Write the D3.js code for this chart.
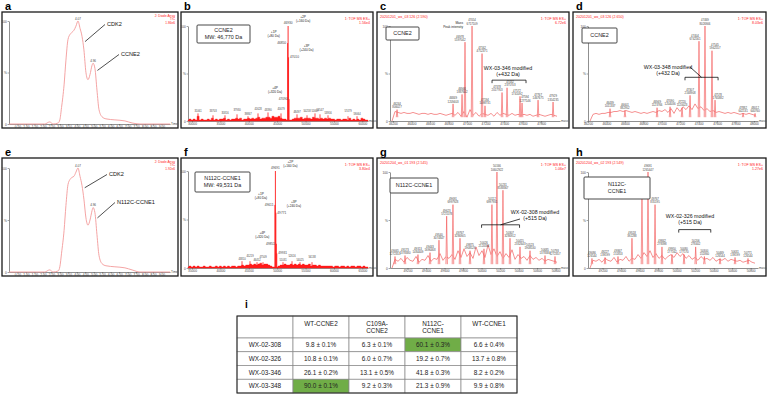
<!DOCTYPE html>
<head>
<meta charset="utf-8">
<script src="https://d3js.org/d3.v7.min.js"></script>
<style>
  body { margin:0; background:#fff; }
  text { font-family: "Liberation Sans", Arial, sans-serif; }
</style>
</head>
<body>
<script>

// ---------- data ----------

// a / e : UV chromatograms (time in min, % signal)
var chromTime = [0, 2.1, 2.4, 2.6, 2.9, 3.0, 3.1, 3.25, 3.36, 3.48, 3.6, 3.72, 3.83, 3.95, 4.07, 4.19, 4.31, 4.42, 4.54, 4.66, 4.78, 4.9, 4.96, 5.07, 5.19, 5.31, 5.49, 5.72, 6.25, 6.84, 7.26, 7.73, 9.5];
var aSignal = [0, 0, 2, 0, 1, 4, 16, 38, 62, 82, 87, 89, 91, 95, 100, 93, 85, 72, 50, 43, 48, 57, 59, 54, 33, 14, 7, 5, 4, 3, 1, 0, 0];
var eSignal = [0, 0, 2, 0, 1, 5, 18, 40, 64, 84, 89, 91, 92, 96, 100, 92, 83, 70, 52, 45, 50, 59, 62, 57, 36, 16, 8, 6, 5, 4, 2, 0, 0];
var chromTicks = [0.5, 1, 1.5, 2, 2.5, 3, 3.5, 4, 4.5, 5, 5.5, 6, 6.5, 7, 7.5, 8, 8.5, 9];
var aPeakTimes = [4.07, 4.96];
var ePeakTimes = [4.07, 4.96];
var aNotes = ["CDK2", "CCNE2"];
var eNotes = ["CDK2", "N112C-CCNE1"];
var aAnchors = [[4.37, 80], [5.1, 52]];
var eAnchors = [[4.35, 81], [5.1, 52]];

// b / f : deconvoluted full-range spectra
var bTicks = [30000, 35000, 40000, 45000, 50000, 55000, 60000];
var fTicks = [35000, 40000, 45000, 50000, 55000, 60000, 65000];
var bPeaks = [[46930, 100], [46850, 82], [47010, 67], [47090, 23]];
var fPeaks = [[49691, 100], [49611, 65], [49771, 57], [49851, 25], [49931, 15]];
var peakSides = ["t", "l", "r", "l", "r"];
var phosTop = ["+2P", "+1P", "+3P", "+4P"];
var phosBottom = ["(+160 Da)", "(+80 Da)", "(+240 Da)", "(+320 Da)"];
var bMinor = [[31061, 8], [33703, 6], [35816, 6], [37930, 7], [39867, 5], [41628, 8], [43390, 9], [45679, 8],
              [48497, 7], [50258, 6], [51667, 8], [52547, 7], [53956, 6], [57479, 5], [59064, 5]];
var fMinor = [[43810, 7], [45219, 7], [46452, 6], [47509, 6], [51031, 6], [52616, 7], [54025, 6], [56138, 6]];
var bNoise = [1,2,1,2,1, 5,1,2,1,1, 2,1,3,1,2, 1,2,2,3,1, 2,1,2,2,3, 2,3,1,2,2, 3,2,3,2,3, 4,2,3,3,4,
              4,3,5,4,4, 5,3,2,2,1, 1,1,2,3,3, 3,4,2,3,3, 3,2,4,3,3, 2,3,2,3,2, 3,2,2,1,2, 2,1,2,2,1,
              3,1,2,1,2, 1,3,2,1,1];
var fNoise = [1,2,1,2,1, 2,1,1,2,1, 1,2,1,1,2, 1,2,1,2,1, 2,1,2,2,1, 2,2,3,2,3, 3,4,3,4,3, 4,5,3,4,4,
              3,2,1,1,1, 2,3,3,4,3, 3,4,3,4,3, 4,3,4,3,3, 4,2,3,3,2, 3,2,2,2,2, 2,2,1,2,2, 1,2,2,1,2,
              1,2,2,1,2, 2,1,2,1,1];

// c, d, g, h : zoomed spectra  [mass, % intensity, peak intensity]
var cTicks = [46200, 46400, 46600, 46800, 47000, 47200, 47400, 47600, 47800];
var cPeaks = [[46244, 12, 806027], [46849, 18, 1209403], [46946, 28, 1887602], [46978, 83, 5597042],
              [47054, 100, 6717109], [47162, 71, 4752371], [47194, 16, 1098731], [47378, 30, 2017763],
              [47432, 35, 2375703], [47572, 26, 1741092], [47594, 19, 1277146], [47767, 22, 1467675],
              [47929, 20, 1354235]];
var cNoise = [0,10,9,8,9,8,8,9,8,7,8,8,7,8,7,7,8,7,6,7,8,6,9,5,10,4,12,6,9,5,8,7,6,8,5,9,6,8,7,6,
              8,6,7,6,7,6,7,5,6,7,6,5,6,7,6,5];

var dTicks = [46200, 46400, 46600, 46800, 47000, 47200, 47400, 47600, 47800, 48000];
var dPeaks = [[46439, 13, 1011337], [46601, 11, 882952], [46949, 14, 1123766], [47090, 15, 1204036],
              [47220, 14, 1120023], [47307, 27, 2168908], [47404, 84, 6742561], [47469, 100, 8026906],
              [47545, 74, 5942557], [47578, 22, 1765882], [47882, 8, 642131], [48012, 8, 640760]];
var dNoise = [0,7,8,7,8,8,9,9,10,10,11,10,11,10,9,10,9,8,9,8,9,10,9,11,10,12,9,13,8,14,10,15,12,16,12,
              18,13,15,11,13,10,11,9,10,9,8,9,8,9,8,7,8,7,8,7,6];

var gTicks = [49200, 49400, 49600, 49800, 50000, 50200, 50400, 50600, 50800];
var gPeaks = [[49065, 12, 1272351], [49173, 13, 1378380], [49313, 14, 1484409], [49443, 16, 1696468],
              [49540, 29, 3074847], [49623, 54, 5725578], [49691, 66, 6997928], [49767, 31, 3286905],
              [49875, 18, 1908526], [50026, 20, 2120584], [50112, 66, 6997931], [50166, 100, 10602922],
              [50231, 81, 8588367], [50307, 31, 3286912], [50415, 22, 2332643], [50523, 18, 1908530],
              [50685, 13, 1378384], [50793, 12, 1272357]];
var gNoise = [0,9,7,10,6,11,8,7,12,6,9,8,13,7,10,9,15,8,12,10,14,9,18,11,20,12,16,10,22,13,18,11,24,14,
              20,12,17,10,15,11,19,9,14,10,12,8,13,9,11,8,10,7,9,8,7,6];

var hTicks = [49200, 49400, 49600, 49800, 50000, 50200, 50400, 50600, 50800];
var hPeaks = [[49086, 10, 126544], [49227, 11, 139199], [49367, 12, 151853], [49518, 31, 392288],
              [49626, 76, 961740], [49691, 100, 1265447], [49767, 66, 835195], [49842, 22, 278398],
              [49950, 14, 177162], [50080, 14, 177170], [50206, 22, 278402], [50300, 12, 151860],
              [50469, 10, 126544], [50631, 11, 139199], [50771, 10, 126544]];
var hNoise = [0,8,7,9,6,10,8,7,11,6,9,8,12,7,10,9,14,10,16,12,18,11,15,10,13,9,12,14,11,16,12,15,10,13,
              9,11,8,12,9,10,8,11,7,9,8,10,7,9,8,7,8,6,7,8,6,5];

// i : table
var tableCols = ["", "WT-CCNE2", "C109A-\nCCNE2", "N112C-\nCCNE1", "WT-CCNE1"];
var tableRows = ["WX-02-308", "WX-02-326", "WX-03-346", "WX-03-348"];
var tableValues = [
  ["9.8 ± 0.1%", "6.3 ± 0.1%", "60.1 ± 0.3%", "6.6 ± 0.4%"],
  ["10.8 ± 0.1%", "6.0 ± 0.7%", "19.2 ± 0.7%", "13.7 ± 0.8%"],
  ["26.1 ± 0.2%", "13.1 ± 0.5%", "41.8 ± 0.3%", "8.2 ± 0.2%"],
  ["90.0 ± 0.1%", "9.2 ± 0.3%", "21.3 ± 0.9%", "9.9 ± 0.8%"]
];
var tableGreen = [[0, 2], [3, 0]];

// ---------- drawing ----------

var RED = "#ff1a1a", PINK = "#f39a9a", INK = "#444";

// sideways nudges for crowded peak labels (px)
var cShift = [0, 0, 0, -5, 0, 0, 0, -5, 3, -3, 3, 0, 0];
var dShift = [0, 0, 0, 0, 0, 0, -4, 0, 3, 3, 0, 0];

var svg = d3.select("body").append("svg")
  .attr("width", 768)
  .attr("height", 395);

function frame(fr, letter) {
  svg.append("rect")
    .attr("x", fr[0]).attr("y", fr[1])
    .attr("width", fr[2] - fr[0]).attr("height", fr[3] - fr[1])
    .attr("fill", "none").attr("stroke", "#1a1a1a").attr("stroke-width", 1.3);
  svg.append("text")
    .attr("x", fr[0] + 3).attr("y", fr[1] - 2)
    .attr("font-size", 11).attr("font-weight", "bold")
    .text(letter);
}

function small(x, y, s, size, color, anchor) {
  return svg.append("text")
    .attr("x", x).attr("y", y)
    .attr("font-size", size)
    .attr("fill", color || INK)
    .attr("text-anchor", anchor || "start")
    .text(s);
}

function header(fr, left, r1, r2) {
  if (left) small(fr[0] + 3, fr[1] + 5.5, left, 3.6, RED);
  small(fr[2] - 3, fr[1] + 7.5, r1, 3.6, RED, "end");
  small(fr[2] - 3, fr[1] + 11.5, r2, 3.6, RED, "end");
}

function box(x0, y0, x1, y1, lines, size) {
  svg.append("rect")
    .attr("x", x0).attr("y", y0).attr("width", x1 - x0).attr("height", y1 - y0)
    .attr("rx", 1).attr("fill", "#fff").attr("stroke", "#333").attr("stroke-width", 0.9);
  var n = lines.length, cy = (y0 + y1) / 2;
  lines.forEach(function(l, i) {
    small((x0 + x1) / 2, cy + (i - (n - 1) / 2) * (size + 1.6) + size * 0.36, l, size, "#222", "middle");
  });
}

function axesFor(px, py, domain, ticks, fmt, xLabel) {
  var x = d3.scaleLinear().domain(domain).range(px);
  var y = d3.scaleLinear().domain([0, 100]).range(py);
  var gx = svg.append("g").attr("transform", "translate(0," + py[0] + ")")
    .call(d3.axisBottom(x).tickValues(ticks).tickSize(1.4).tickSizeOuter(0).tickPadding(0.6).tickFormat(fmt));
  var gy = svg.append("g").attr("transform", "translate(" + px[0] + ",0)")
    .call(d3.axisLeft(y).tickValues([0, 50, 100]).tickSize(1.4).tickSizeOuter(0).tickPadding(0.8)
      .tickFormat(function(d) { return d === 50 ? "%" : d; }));
  [gx, gy].forEach(function(g) {
    g.attr("font-size", 3.2).attr("font-family", null);
    g.select(".domain").attr("stroke", INK).attr("stroke-width", 0.6);
    g.selectAll(".tick line").attr("stroke", INK).attr("stroke-width", 0.5);
    g.selectAll(".tick text").attr("fill", INK);
  });
  small(px[1] + 1, py[0] + 1, xLabel, 3, INK);
  return {x: x, y: y};
}

// chromatogram panels
function chromPanel(fr, letter, px, py, signal, peakTimes, notes, anchors, notePos, hdr) {
  frame(fr, letter);
  small(fr[2] - 3, fr[1] + 4.5, hdr[0], 3.2, RED, "end");
  small(fr[2] - 3, fr[1] + 8, hdr[1], 3.2, RED, "end");
  small(fr[2] - 3, fr[1] + 11.5, hdr[2], 3.2, RED, "end");
  var s = axesFor(px, py, [0, 9.5], chromTicks, d3.format(".2f"), "Time");
  var line = d3.line()
    .x(function(d, i) { return s.x(chromTime[i]); })
    .y(function(d) { return s.y(d); })
    .curve(d3.curveMonotoneX);
  svg.append("path").datum(signal)
    .attr("d", line).attr("fill", "none").attr("stroke", PINK).attr("stroke-width", 0.9);
  peakTimes.forEach(function(t) {
    var v = signal[chromTime.indexOf(t)];
    small(s.x(t), s.y(v) - 1.5, t.toFixed(2), 3, INK, "middle");
  });
  notes.forEach(function(n, i) {
    var a = anchors[i], p = notePos[i];
    svg.append("line")
      .attr("x1", s.x(a[0]) + 2).attr("y1", s.y(a[1]))
      .attr("x2", p[0] - 2).attr("y2", p[1] - 1.5)
      .attr("stroke", "#222").attr("stroke-width", 0.8);
    small(p[0], p[1], n, 5.6, "#111");
  });
}

chromPanel([2, 12, 178, 128], "a", [9, 170], [124, 21], aSignal, aPeakTimes, aNotes, aAnchors,
  [[107, 26], [121, 56]], ["2: Diode Array", "TIC", "1.86e6"]);
chromPanel([2, 158, 178, 276], "e", [9, 170], [272, 168], eSignal, ePeakTimes, eNotes, eAnchors,
  [[109, 176], [117, 204]], ["2: Diode Array", "TIC", "1.92e6"]);

// full range spectra
var sideOffset = {
  t: {lab: [0, -2, "middle"], ph: [15, -8]},
  l: {lab: [-1.5, 1, "end"], ph: [-14, -10]},
  r: {lab: [1.5, 1, "start"], ph: [18, -10]}
};

function fullPanel(fr, letter, px, py, domain, ticks, peaks, minor, noise, boxRect, boxLines, hdr2) {
  frame(fr, letter);
  header(fr, null, "1: TOF MS ES+", hdr2);
  var s = axesFor(px, py, domain, ticks, d3.format("d"), "mass");
  var idx = d3.scaleLinear().domain([0, noise.length - 1]).range(domain);
  var area = d3.area()
    .x(function(d, i) { return s.x(idx(i)); })
    .y0(s.y(0))
    .y1(function(d) { return s.y(d); })
    .curve(d3.curveStep);
  svg.append("path").datum(noise).attr("d", area).attr("fill", RED).attr("stroke", RED).attr("stroke-width", 0.4);
  svg.append("g").selectAll("line").data(minor).join("line")
    .attr("x1", function(d) { return s.x(d[0]); }).attr("x2", function(d) { return s.x(d[0]); })
    .attr("y1", s.y(0)).attr("y2", function(d) { return s.y(d[1]); })
    .attr("stroke", RED).attr("stroke-width", 0.8);
  minor.forEach(function(d, i) {
    small(s.x(d[0]), s.y(d[1]) - 1.2 - (i % 2) * 2.6, d[0], 2.6, INK, "middle");
  });
  svg.append("g").selectAll("line").data(peaks).join("line")
    .attr("x1", function(d) { return s.x(d[0]); }).attr("x2", function(d) { return s.x(d[0]); })
    .attr("y1", s.y(0)).attr("y2", function(d) { return s.y(d[1]); })
    .attr("stroke", RED).attr("stroke-width", 0.9);
  peaks.forEach(function(d, i) {
    var o = sideOffset[peakSides[i]];
    var cx = s.x(d[0]), cy = s.y(d[1]);
    small(cx + o.lab[0], cy + o.lab[1], d[0], 3.2, INK, o.lab[2]);
    if (i < phosTop.length) {
      small(cx + o.ph[0], cy + o.ph[1], phosTop[i], 3.2, "#222", "middle");
      small(cx + o.ph[0], cy + o.ph[1] + 4, phosBottom[i], 3.2, "#222", "middle");
    }
  });
  box(boxRect[0], boxRect[1], boxRect[2], boxRect[3], boxLines, 5.4);
}

fullPanel([181, 12, 373, 128], "b", [188, 368], [121, 26], [29300, 61000], bTicks, bPeaks, bMinor, bNoise,
  [197, 25, 250, 43], ["CCNE2", "MW: 46,770 Da"], "1.56e4");
fullPanel([181, 158, 373, 276], "f", [188, 368], [268, 171], [34300, 66000], fTicks, fPeaks, fMinor, fNoise,
  [195, 172, 250, 192], ["N112C-CCNE1", "MW: 49,531 Da"], "3.80e4");

// zoomed spectra
function zoomPanel(fr, letter, px, py, domain, ticks, peaks, noise, fileName, hdr2, shift) {
  frame(fr, letter);
  header(fr, fileName, "1: TOF MS ES+", hdr2);
  var s = axesFor(px, py, domain, ticks, d3.format("d"), "mass");
  var idx = d3.scaleLinear().domain([0, noise.length - 1]).range([s.x.invert(px[0] + 2), s.x.invert(px[1] - 3)]);
  var line = d3.line()
    .x(function(d, i) { return s.x(idx(i)); })
    .y(function(d) { return s.y(d); });
  svg.append("path").datum(noise).attr("d", line)
    .attr("fill", "none").attr("stroke", "#f06060").attr("stroke-width", 0.7);
  svg.append("g").selectAll("path").data(peaks).join("path")
    .attr("d", function(d) {
      var cx = s.x(d[0]);
      return "M" + (cx - 0.8) + "," + s.y(4) + "L" + cx + "," + s.y(d[1]) + "L" + (cx + 0.8) + "," + s.y(4);
    })
    .attr("fill", "#fde3e3").attr("stroke", "#f03a3a").attr("stroke-width", 0.5);
  peaks.forEach(function(d, i) {
    var cx = s.x(d[0]) + ((shift && shift[i]) || 0), cy = s.y(d[1]);
    small(cx, cy - 4.6, d[0], 2.8, INK, "middle");
    small(cx, cy - 1.4, d[2], 2.8, INK, "middle");
  });
  return s;
}

function bracket(s, m0, m1, pct, lines, textX, textY, leader) {
  var y = s.y(pct), x0 = s.x(m0), x1 = s.x(m1);
  svg.append("path")
    .attr("d", "M" + x0 + "," + (y + 3) + "V" + y + "H" + x1 + "V" + (y + 3))
    .attr("fill", "none").attr("stroke", "#111").attr("stroke-width", 0.8);
  small(textX, textY, lines[0], 5.3, "#111", "middle");
  small(textX, textY + 6, lines[1], 5.3, "#111", "middle");
  if (leader) {
    svg.append("line")
      .attr("x1", (x0 + x1) / 2).attr("y1", y)
      .attr("x2", leader[0]).attr("y2", leader[1])
      .attr("stroke", "#111").attr("stroke-width", 0.8);
  }
}

var c = zoomPanel([377, 12, 569, 128], "c", [390, 560], [121, 26], [46168, 48004], cTicks, cPeaks, cNoise,
  "20201201_wx_03 126 (2.590)", "6.72e6", cShift);
small(463, 24, "Mass", 3.2, "#222", "end");
small(463, 28, "Peak intensity", 3.2, "#222", "end");
box(386, 27, 419, 40, ["CCNE2"], 5.4);
bracket(c, 47270, 47637, 43, ["WX-03-346 modified", "(+432 Da)"], 508, 70);

var dd = zoomPanel([573, 12, 766, 128], "d", [588, 758], [121, 26], [46200, 48044], dTicks, dPeaks, dNoise,
  "20201201_wx_03 126 (2.650)", "8.03e6", dShift);
box(582, 28, 617, 43, ["CCNE2"], 5.4);
bracket(dd, 47252, 47611, 46, ["WX-03-348 modified", "(+432 Da)"], 668, 69, [690, 67]);

var g = zoomPanel([377, 158, 569, 276], "g", [390, 560], [268, 172], [49011, 50847], gTicks, gPeaks, gNoise,
  "20201204_wx_01 193 (2.545)", "1.06e7");
box(390, 178, 438, 193, ["N112C-CCNE1"], 5.4);
bracket(g, 50000, 50410, 45, ["WX-02-308 modified", "(+515 Da)"], 535, 214, [520, 219]);

var h = zoomPanel([573, 158, 766, 276], "h", [588, 758], [268, 172], [49043, 50879], hTicks, hPeaks, hNoise,
  "20201204_wx_02 193 (2.549)", "1.27e6");
box(584, 177, 650, 199, ["N112C-", "CCNE1"], 5.4);
bracket(h, 50023, 50369, 40, ["WX-02-326 modified", "(+515 Da)"], 690, 218);

// table
svg.append("text").attr("x", 245).attr("y", 308).attr("font-size", 10).attr("font-weight", "bold").text("i");

var tx = d3.scaleBand().domain(d3.range(tableCols.length)).range([237, 517]);
var ty = d3.scaleBand().domain(tableRows).range([338, 393]);
var headTop = 316;

var tg = svg.append("g");
tableCols.forEach(function(col, j) {
  tg.append("rect").attr("x", tx(j)).attr("y", headTop).attr("width", tx.bandwidth()).attr("height", 338 - headTop)
    .attr("fill", "#fff").attr("stroke", "#888").attr("stroke-width", 0.7);
  var parts = col.split("\n");
  parts.forEach(function(p, k) {
    tg.append("text").attr("x", tx(j) + tx.bandwidth() / 2)
      .attr("y", headTop + 9.5 + k * 7).attr("text-anchor", "middle")
      .attr("font-size", 6.4).attr("fill", "#222").text(p);
  });
});
tableRows.forEach(function(row, i) {
  var cells = [row].concat(tableValues[i]);
  cells.forEach(function(v, j) {
    var green = tableGreen.some(function(gc) { return gc[0] === i && gc[1] === j - 1; });
    tg.append("rect").attr("x", tx(j)).attr("y", ty(row)).attr("width", tx.bandwidth()).attr("height", ty.bandwidth())
      .attr("fill", green ? "#70ad47" : "#fff").attr("stroke", "#888").attr("stroke-width", 0.7);
    tg.append("text").attr("x", tx(j) + tx.bandwidth() / 2).attr("y", ty(row) + ty.bandwidth() / 2 + 2.3)
      .attr("text-anchor", "middle").attr("font-size", 6.4).attr("fill", "#222").text(v);
  });
});
tg.append("rect").attr("x", 237).attr("y", headTop).attr("width", 280).attr("height", 393 - headTop)
  .attr("fill", "none").attr("stroke", "#222").attr("stroke-width", 1);

</script>
</body>
